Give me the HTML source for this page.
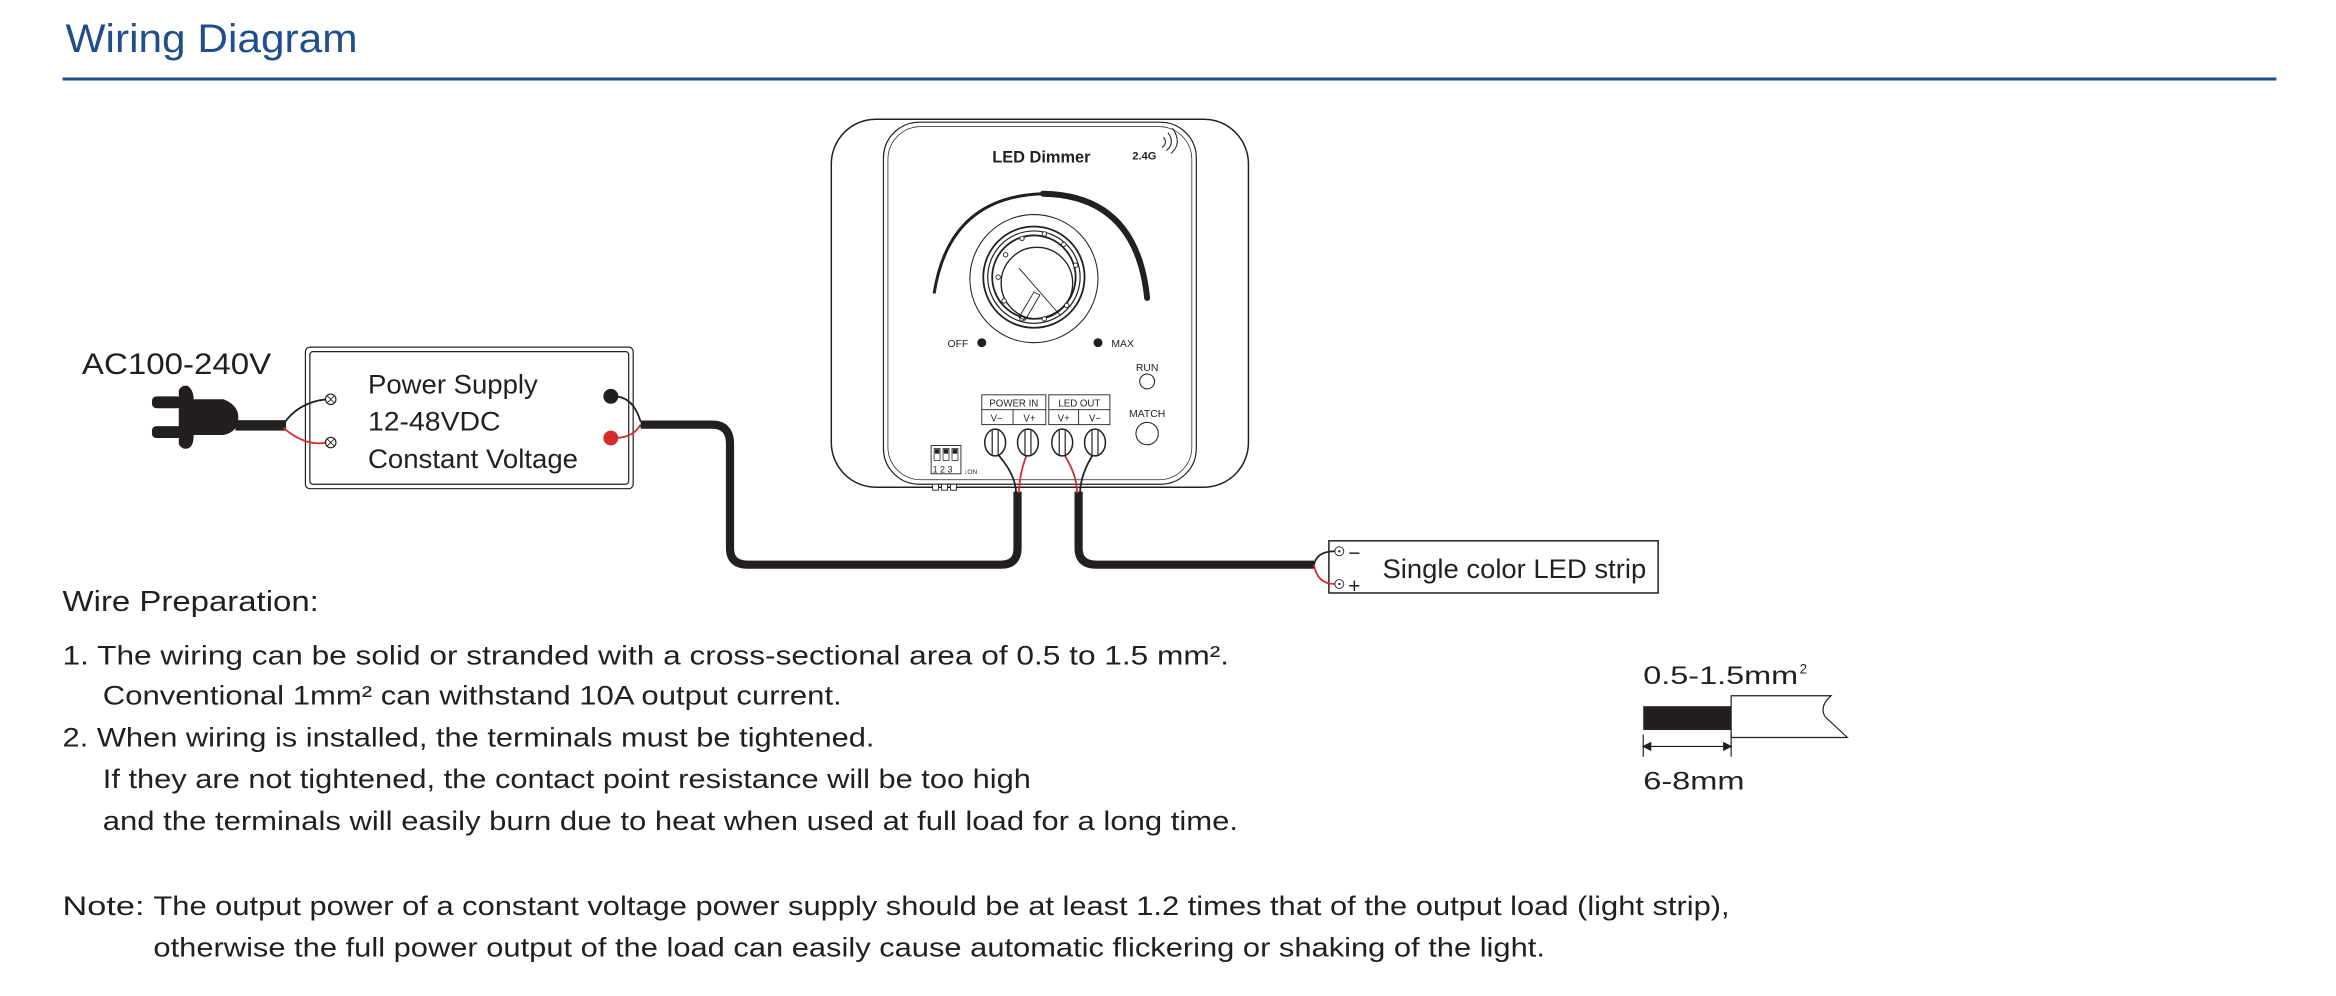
<!DOCTYPE html>
<html><head><meta charset="utf-8"><style>
html,body{margin:0;padding:0;background:#fff;}
svg{display:block;}
text{font-family:"Liberation Sans",sans-serif;fill:#231f20;}
</style></head><body>
<svg width="2336" height="996" viewBox="0 0 1568 668.5" xmlns="http://www.w3.org/2000/svg">
<!-- title -->
<text x="44" y="35" font-size="27" style="fill:#1f4e8c" textLength="196" lengthAdjust="spacingAndGlyphs">Wiring Diagram</text>
<line x1="42" y1="53" x2="1528" y2="53" stroke="#1f4e8c" stroke-width="2"/>

<!-- AC -->
<text x="55" y="251" font-size="20" textLength="127" lengthAdjust="spacingAndGlyphs">AC100-240V</text>
<!-- plug -->
<rect x="102" y="266" width="20" height="8" rx="3" fill="#231f20"/>
<rect x="102" y="286" width="20" height="8" rx="3" fill="#231f20"/>
<path d="M120 262 Q122 258 126 259 Q130 262 130 268 L150 268 Q160 272 160 280 Q160 290 150 292 L130 292 Q130 300 126 301 Q122 302 120 298 Z" fill="#231f20"/>
<rect x="158" y="282" width="34" height="7" fill="#231f20"/>
<!-- power supply -->
<rect x="205" y="233" width="220" height="95" rx="3" fill="#fff" stroke="#231f20" stroke-width="0.8"/>
<rect x="208" y="236" width="214" height="89" rx="2" fill="none" stroke="#231f20" stroke-width="0.8"/>
<path d="M190 285 Q200 270 219 268" fill="none" stroke="#231f20" stroke-width="1.2"/>
<path d="M190 287 Q205 300 219 297" fill="none" stroke="#d42b2b" stroke-width="1.2"/>
<g fill="#fff" stroke="#231f20" stroke-width="0.8"><circle cx="222" cy="268" r="3.5"/><circle cx="222" cy="297" r="3.5"/></g>
<g stroke="#231f20" stroke-width="0.6"><path d="M219.5 265.5l5 5M224.5 265.5l-5 5M219.5 294.5l5 5M224.5 294.5l-5 5"/></g>
<text x="247" y="264" font-size="18" textLength="114" lengthAdjust="spacingAndGlyphs">Power Supply</text>
<text x="247" y="289" font-size="18" textLength="89" lengthAdjust="spacingAndGlyphs">12-48VDC</text>
<text x="247" y="314" font-size="18" textLength="141" lengthAdjust="spacingAndGlyphs">Constant Voltage</text>
<path d="M412 266 Q425 266 430 283" fill="none" stroke="#231f20" stroke-width="1.2"/>
<path d="M412 294 Q425 294 430 285" fill="none" stroke="#d42b2b" stroke-width="1.2"/>
<circle cx="410" cy="266" r="5" fill="#231f20"/>
<circle cx="410" cy="294" r="5" fill="#d42b2b"/>
<!-- cable 1 -->
<path d="M430 285 L478 285 Q490 285 490 298 L490 368 Q490 379 502 379 L672 379 Q683 379 683 368 L683 330" fill="none" stroke="#231f20" stroke-width="5.5"/>
<!-- cable 2 -->
<path d="M724 330 L724 368 Q724 379 736 379 L882 379" fill="none" stroke="#231f20" stroke-width="5.5"/>
<!-- strip -->
<rect x="892" y="363" width="221" height="35" fill="#fff" stroke="#231f20" stroke-width="1"/>
<path d="M882 379 Q884 370 896 370" fill="none" stroke="#231f20" stroke-width="1.2"/>
<path d="M882 379 Q884 392 896 392" fill="none" stroke="#d42b2b" stroke-width="1.2"/>
<g fill="#fff" stroke="#231f20" stroke-width="0.6"><circle cx="899" cy="370" r="3"/><circle cx="899" cy="392" r="3"/></g>
<g fill="#231f20"><circle cx="899" cy="370" r="0.8"/><circle cx="899" cy="392" r="0.8"/></g>
<text x="905" y="376" font-size="14">−</text>
<text x="905" y="398" font-size="14">+</text>
<text x="928" y="388" font-size="18" textLength="177" lengthAdjust="spacingAndGlyphs">Single color LED strip</text>

<!-- dimmer -->
<rect x="558" y="80" width="280" height="247" rx="30" fill="#fff" stroke="#231f20" stroke-width="1"/>
<rect x="593" y="82" width="210" height="243" rx="24" fill="#fff" stroke="#231f20" stroke-width="0.8"/>
<rect x="596" y="85" width="204" height="237" rx="22" fill="none" stroke="#231f20" stroke-width="0.5"/>
<text x="699" y="109" font-size="11" font-weight="bold" text-anchor="middle">LED Dimmer</text>
<text x="760" y="107" font-size="7.5" font-weight="bold">2.4G</text>
<g fill="none" stroke="#231f20" stroke-width="0.7"><path d="M780 99 Q784 96 781 92"/><path d="M783 101 Q789 96 784 89"/><path d="M786 103 Q794 96 787 86"/></g>
<path d="M627 197 Q637 132 700 130" fill="none" stroke="#231f20" stroke-width="2"/>
<path d="M700 130 Q763 131 770 200" fill="none" stroke="#231f20" stroke-width="4" stroke-linecap="round"/>
<circle cx="694" cy="187" r="43" fill="none" stroke="#231f20" stroke-width="0.7"/>
<circle cx="694" cy="186" r="34" fill="none" stroke="#231f20" stroke-width="1.2"/>
<circle cx="694" cy="186" r="31" fill="none" stroke="#231f20" stroke-width="0.8"/>
<circle cx="694" cy="186" r="28" fill="none" stroke="#231f20" stroke-width="1.2"/>
<circle cx="696" cy="190" r="24" fill="none" stroke="#231f20" stroke-width="0.9"/>
<g fill="#fff" stroke="#231f20" stroke-width="0.6">
<circle cx="701" cy="157" r="1.5"/><circle cx="714" cy="164" r="1.5"/><circle cx="722" cy="178" r="1.5"/><circle cx="686" cy="160" r="1.5"/><circle cx="675" cy="171" r="1.5"/><circle cx="670" cy="186" r="1.5"/><circle cx="674" cy="202" r="1.5"/><circle cx="686" cy="214" r="1.5"/><circle cx="701" cy="214" r="1.5"/><circle cx="716" cy="205" r="1.5"/>
</g>
<line x1="684" y1="180" x2="712" y2="212" stroke="#231f20" stroke-width="0.6"/>
<path d="M684 213 L694 196 L698 198 L688 215 Z" fill="none" stroke="#231f20" stroke-width="0.6"/>
<circle cx="659" cy="230" r="3" fill="#231f20"/>
<circle cx="737" cy="230" r="3" fill="#231f20"/>
<text x="636" y="233" font-size="7">OFF</text>
<text x="746" y="233" font-size="7">MAX</text>
<text x="770" y="249" font-size="7" text-anchor="middle">RUN</text>
<circle cx="770" cy="256" r="5" fill="none" stroke="#231f20" stroke-width="0.7"/>
<text x="770" y="280" font-size="7" text-anchor="middle">MATCH</text>
<circle cx="770" cy="291" r="7.5" fill="none" stroke="#231f20" stroke-width="0.7"/>
<g fill="none" stroke="#231f20" stroke-width="0.6">
<rect x="659" y="265" width="43" height="20"/><rect x="704" y="265" width="41" height="20"/>
<line x1="659" y1="275" x2="702" y2="275"/><line x1="704" y1="275" x2="745" y2="275"/>
<line x1="680" y1="275" x2="680" y2="285"/><line x1="724" y1="275" x2="724" y2="285"/>
</g>
<text x="680.5" y="273" font-size="6.5" text-anchor="middle">POWER IN</text>
<text x="724.5" y="273" font-size="6.5" text-anchor="middle">LED OUT</text>
<text x="669" y="283" font-size="6.5" text-anchor="middle">V−</text>
<text x="691" y="283" font-size="6.5" text-anchor="middle">V+</text>
<text x="714" y="283" font-size="6.5" text-anchor="middle">V+</text>
<text x="735" y="283" font-size="6.5" text-anchor="middle">V−</text>
<!-- wires into terminals -->
<path d="M682 331 Q682 318 668 303" fill="none" stroke="#231f20" stroke-width="1.2"/>
<path d="M684 331 Q684 318 690 303" fill="none" stroke="#d42b2b" stroke-width="1.2"/>
<path d="M723 331 Q723 318 713 303" fill="none" stroke="#d42b2b" stroke-width="1.2"/>
<path d="M725 331 Q725 318 735 303" fill="none" stroke="#231f20" stroke-width="1.2"/>
<g fill="#fff" stroke="#231f20" stroke-width="1">
<ellipse cx="668" cy="297" rx="7" ry="9"/><ellipse cx="690" cy="297" rx="7" ry="9"/><ellipse cx="713" cy="297" rx="7" ry="9"/><ellipse cx="735" cy="297" rx="7" ry="9"/>
</g>
<g stroke="#231f20" stroke-width="0.8"><path d="M666 289v16M670 289v16M688 289v16M692 289v16M711 289v16M715 289v16M733 289v16M737 289v16"/></g>
<rect x="625" y="299" width="20" height="19" fill="none" stroke="#231f20" stroke-width="0.6"/>
<g fill="none" stroke="#231f20" stroke-width="0.5"><rect x="627" y="301" width="4" height="8"/><rect x="633" y="301" width="4" height="8"/><rect x="639" y="301" width="4" height="8"/></g>
<g fill="#231f20"><rect x="627.5" y="301.5" width="3" height="3"/><rect x="633.5" y="301.5" width="3" height="3"/><rect x="639.5" y="301.5" width="3" height="3"/></g>
<text x="626" y="317" font-size="6">1 2 3</text>
<text x="647" y="318" font-size="4.5">↓ON</text>
<g fill="#fff" stroke="#231f20" stroke-width="0.6"><rect x="626" y="325" width="4" height="4"/><rect x="632" y="325" width="4" height="4"/><rect x="638" y="325" width="4" height="4"/></g>

<!-- text section -->
<text x="42" y="410" font-size="19" textLength="172" lengthAdjust="spacingAndGlyphs">Wire Preparation:</text>
<text x="42" y="446" font-size="18" textLength="783" lengthAdjust="spacingAndGlyphs">1. The wiring can be solid or stranded with a cross-sectional area of 0.5 to 1.5 mm².</text>
<text x="69" y="473" font-size="18" textLength="496" lengthAdjust="spacingAndGlyphs">Conventional 1mm² can withstand 10A output current.</text>
<text x="42" y="501" font-size="18" textLength="545" lengthAdjust="spacingAndGlyphs">2. When wiring is installed, the terminals must be tightened.</text>
<text x="69" y="529" font-size="18" textLength="623" lengthAdjust="spacingAndGlyphs">If they are not tightened, the contact point resistance will be too high</text>
<text x="69" y="557" font-size="18" textLength="762" lengthAdjust="spacingAndGlyphs">and the terminals will easily burn due to heat when used at full load for a long time.</text>
<text x="42" y="614" font-size="18" textLength="55" lengthAdjust="spacingAndGlyphs">Note:</text>
<text x="103" y="614" font-size="18" textLength="1058" lengthAdjust="spacingAndGlyphs">The output power of a constant voltage power supply should be at least 1.2 times that of the output load (light strip),</text>
<text x="103" y="642" font-size="18" textLength="934" lengthAdjust="spacingAndGlyphs">otherwise the full power output of the load can easily cause automatic flickering or shaking of the light.</text>

<!-- wire graphic -->
<text x="1103" y="459" font-size="17" textLength="104" lengthAdjust="spacingAndGlyphs">0.5-1.5mm</text>
<text x="1208" y="452" font-size="9">2</text>
<rect x="1103" y="474" width="59" height="16" fill="#231f20"/>
<path d="M1162 467 L1229 467 Q1221 474 1225 481 L1240 495 L1162 495 Z" fill="#fff" stroke="#231f20" stroke-width="0.8"/>
<g stroke="#231f20" stroke-width="0.8" fill="#231f20">
<line x1="1103" y1="493" x2="1103" y2="508"/><line x1="1162" y1="493" x2="1162" y2="508"/>
<line x1="1105" y1="501" x2="1160" y2="501"/>
<path d="M1103 501 l5 -2.5 v5 z"/><path d="M1162 501 l-5 -2.5 v5 z"/>
</g>
<text x="1103" y="530" font-size="17" textLength="68" lengthAdjust="spacingAndGlyphs">6-8mm</text>
</svg>
</body></html>
